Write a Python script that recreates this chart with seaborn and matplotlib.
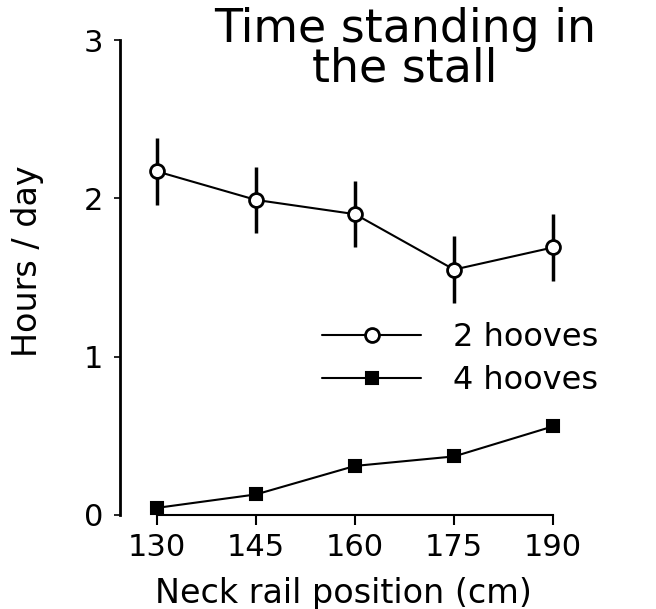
import numpy as np
import pandas as pd
import matplotlib
matplotlib.use("Agg")
import matplotlib.pyplot as plt
import seaborn as sns

# du lieu doc tu hinh
neck_pos = [130, 145, 160, 175, 190]
hooves2 = [2.17, 1.99, 1.90, 1.55, 1.69]
hooves2_err = [0.21, 0.21, 0.21, 0.21, 0.21]
hooves4 = [0.045, 0.13, 0.31, 0.37, 0.56]
hooves4_err = [0.02, 0.02, 0.02, 0.02, 0.02]
series_names = ["2 hooves", "4 hooves"]
y_ticks = [0, 1, 2, 3]

sns.set_style("white")
plt.rcParams['font.family'] = ['DejaVu Sans']
plt.rcParams['text.color'] = "black"
plt.rcParams['axes.labelcolor'] = "black"
plt.rcParams['xtick.color'] = "black"
plt.rcParams['ytick.color'] = "black"

fig = plt.figure(figsize=(6.56, 6.09), dpi=100)
ax = fig.add_axes([120 / 656, 94 / 609, 480 / 656, 475 / 609])

# error bars
ax.errorbar(neck_pos, hooves2, yerr=hooves2_err, fmt="none", ecolor="black",
            elinewidth=2.5, capsize=0, zorder=1)
ax.errorbar(neck_pos, hooves4, yerr=hooves4_err, fmt="none", ecolor="black",
            elinewidth=2.0, capsize=0, zorder=1)

sns.lineplot(x=neck_pos, y=hooves2, ax=ax, color="black", linewidth=1.5,
             marker="o", markersize=10, markerfacecolor="white",
             markeredgecolor="black", markeredgewidth=2, label=series_names[0],
             zorder=3)
sns.lineplot(x=neck_pos, y=hooves4, ax=ax, color="black", linewidth=1.5,
             marker="s", markersize=8, markerfacecolor="black",
             markeredgecolor="black", markeredgewidth=1.5, label=series_names[1],
             zorder=3)

ax.set_xlim(124.4, 197.1)
ax.set_ylim(0, 3)
ax.set_xticks(neck_pos)
ax.set_yticks(y_ticks)

sns.despine(ax=ax)
ax.spines['left'].set_bounds(0, 3)
ax.spines['bottom'].set_bounds(130, 190)
ax.spines['left'].set_linewidth(2)
ax.spines['bottom'].set_linewidth(1.5)
ax.spines['left'].set_color("black")
ax.spines['bottom'].set_color("black")

ax.tick_params(axis="x", direction="out", length=7, width=1.5, labelsize=22,
               pad=6, bottom=True)
ax.tick_params(axis="y", direction="out", length=4, width=1.2, labelsize=22,
               pad=8, left=True)

ax.set_xlabel("Neck rail position (cm)", fontsize=24)
ax.set_ylabel("Hours / day", fontsize=24)
ax.xaxis.set_label_coords(0.465, -0.13)
ax.yaxis.set_label_coords(-0.158, 0.535)

fig.text(405 / 656, 1 - 49 / 609, "Time standing in\nthe stall", fontsize=33,
         ha="center", va="center", linespacing=0.85)

ax.legend(frameon=False, fontsize=23, loc="center left",
          bbox_to_anchor=(322 / 656, 1 - 359 / 609), bbox_transform=fig.transFigure,
          handlelength=3.1, handletextpad=1.0, labelspacing=0.38,
          borderpad=0, borderaxespad=0)

fig.savefig("out.png", dpi=100)
